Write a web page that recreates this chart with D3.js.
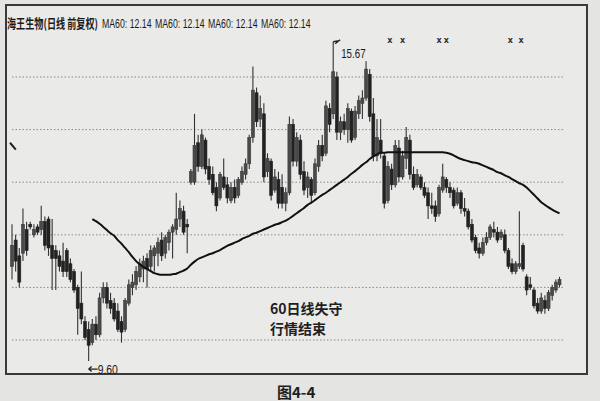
<!DOCTYPE html>
<html><head><meta charset="utf-8">
<script src="https://cdn.jsdelivr.net/npm/d3@7"></script>
<style>
html,body{margin:0;padding:0;background:#e5e5e3;}
svg{display:block;}
</style></head>
<body>
<svg id="c" width="600" height="401"></svg>
<script>
// ---- data ----
const title = "海王生物(日线 前复权)";
const maLabels = ["MA60: 12.14","MA60: 12.14","MA60: 12.14","MA60: 12.14"];
const gridPrices = [10,11,12,13,14,15];
const opens = [11.4,11.9,11.6,11.65,12.1,12.2,12.0,12.15,12.1,12.25,12.3,11.8,11.7,11.6,11.5,11.7,11.45,11.3,11.0,10.7,10.35,10.2,9.95,10.3,10.1,10.8,11.0,10.75,10.7,10.55,10.35,10.2,10.7,11.0,11.05,11.2,11.35,11.55,11.4,11.6,11.65,11.9,11.65,11.85,12.05,12.1,12.3,12.45,12.2,13.0,13.0,13.75,13.3,13.8,13.3,13.15,12.9,12.7,13.1,12.95,12.65,12.9,12.75,13.0,13.15,13.35,13.85,14.7,14.2,14.3,13.2,13.4,12.85,13.05,12.9,12.6,12.8,14.1,13.4,13.8,13.2,12.9,13.05,12.8,13.3,13.7,13.55,14.4,14.3,15.0,13.95,14.15,14.0,14.35,13.85,14.3,14.5,14.6,15.05,14.3,13.5,13.8,13.5,12.65,13.25,12.95,13.65,13.1,13.45,13.8,13.15,12.95,13.1,12.9,12.8,12.55,12.55,12.4,12.85,13.05,12.9,12.85,12.6,12.8,12.5,12.45,12.2,11.95,11.75,11.65,11.85,11.95,12.1,12.05,11.95,12.0,11.7,11.45,11.3,11.4,11.8,11.2,11.05,10.95,10.7,10.55,10.75,10.6,10.85,10.95,11.05];
const highs = [12.2,12.0,11.75,12.5,12.25,12.25,12.2,12.2,12.55,12.35,12.35,12.3,11.8,11.7,11.85,11.75,11.55,11.35,11.05,11.3,10.45,10.35,10.4,10.45,10.9,11.1,11.1,10.9,10.8,10.7,10.45,10.8,11.15,11.25,11.4,11.55,11.6,11.65,11.8,11.8,11.95,12.05,12.0,12.1,12.2,12.8,12.65,12.55,12.3,13.25,14.3,13.9,14.0,13.85,13.45,13.3,13.0,13.2,13.45,13.1,13.0,13.05,13.1,13.3,13.45,13.9,15.2,14.8,14.65,14.5,13.55,13.45,13.25,13.2,13.15,12.9,14.25,14.2,13.95,13.9,13.4,13.2,13.1,13.45,13.8,13.9,14.55,14.5,15.67,15.1,14.25,14.3,14.5,14.4,14.45,14.65,14.75,15.3,15.15,14.6,14.2,14.2,13.55,13.4,13.35,13.8,13.8,13.6,14.05,13.9,13.3,13.25,13.15,13.0,12.9,12.8,12.65,12.95,13.35,13.1,13.0,12.9,12.9,12.85,12.7,12.5,12.3,12.0,11.85,11.95,12.05,12.2,12.25,12.15,12.1,12.1,11.75,11.55,11.5,12.45,11.85,11.25,11.2,11.0,10.8,10.9,10.85,10.95,11.05,11.15,11.2];
const lows = [11.15,11.3,11.0,11.5,11.6,12.1,11.95,12.0,12.0,11.7,11.6,10.95,10.95,11.3,11.2,11.2,11.1,10.9,10.1,10.3,10.0,9.6,9.9,10.0,10.05,10.7,10.6,10.5,10.35,10.15,9.95,10.15,10.65,10.85,10.95,11.1,11.1,11.0,11.3,11.3,11.4,11.5,11.55,11.7,11.55,12.0,12.15,12.0,11.65,12.95,12.95,13.2,13.25,13.15,12.95,12.75,12.45,12.65,12.85,12.6,12.6,12.6,12.7,12.95,13.05,13.25,13.75,14.05,14.05,13.0,13.1,12.65,12.8,12.5,12.5,12.45,12.75,13.3,13.3,13.05,12.75,12.7,12.6,12.75,13.2,13.4,13.5,13.95,14.2,13.8,13.8,13.9,13.75,13.75,13.8,14.2,14.2,14.55,14.15,13.4,13.4,13.45,12.5,12.6,12.85,12.9,13.0,13.05,13.25,13.05,12.85,12.9,12.85,12.7,12.3,12.4,12.25,12.35,12.8,12.8,12.7,12.5,12.55,12.4,12.35,12.1,11.85,11.65,11.55,11.6,11.8,11.9,11.95,11.85,11.9,11.65,11.35,11.25,11.25,11.35,11.3,10.85,10.95,10.6,10.5,10.5,10.5,10.55,10.75,10.9,11.0];
const closes = [11.8,11.5,11.1,12.2,11.7,12.15,12.1,12.05,12.25,11.8,11.75,11.55,11.55,11.4,11.3,11.3,11.15,10.95,10.6,10.4,10.05,9.9,10.3,10.1,10.8,11.0,10.7,10.6,10.4,10.2,10.15,10.75,11.05,11.1,11.3,11.45,11.5,11.35,11.7,11.75,11.85,11.6,11.95,12.05,12.15,12.3,12.5,12.05,12.15,13.2,13.7,13.3,13.9,13.25,13.05,12.8,12.55,13.15,12.9,12.7,12.9,12.7,13.05,13.2,13.35,13.85,14.75,14.15,14.4,13.1,13.45,12.75,13.1,12.6,12.6,12.8,14.1,13.4,13.85,13.15,12.85,13.1,12.75,13.35,13.7,13.5,14.45,14.1,15.1,13.95,14.15,14.0,14.4,13.8,14.35,14.55,14.6,15.15,14.25,13.5,13.85,13.55,12.6,13.3,12.95,13.7,13.1,13.5,13.85,13.15,12.9,13.15,12.9,12.75,12.55,12.5,12.35,12.9,13.1,12.9,12.8,12.55,12.8,12.5,12.45,12.15,11.9,11.7,11.65,11.85,11.95,12.15,12.05,11.9,12.05,11.7,11.4,11.3,11.45,11.45,11.35,10.95,11.0,10.65,10.55,10.8,10.6,10.9,11.0,11.1,11.15];
// MA60 values (first 22 bars have none)
const maStart = 22;
const ma60 = [12.30,12.26,12.21,12.15,12.09,12.03,11.98,11.90,11.83,11.75,11.67,11.58,11.50,11.44,11.39,11.35,11.31,11.27,11.25,11.24,11.24,11.24,11.25,11.26,11.29,11.32,11.36,11.43,11.49,11.54,11.57,11.60,11.63,11.65,11.68,11.71,11.75,11.79,11.82,11.85,11.88,11.92,11.95,11.98,12.02,12.04,12.07,12.10,12.13,12.16,12.19,12.21,12.24,12.27,12.31,12.36,12.41,12.46,12.51,12.57,12.61,12.66,12.71,12.76,12.80,12.85,12.90,12.95,13.00,13.05,13.10,13.16,13.21,13.27,13.33,13.38,13.44,13.49,13.53,13.56,13.56,13.57,13.57,13.57,13.57,13.57,13.57,13.57,13.57,13.57,13.57,13.57,13.57,13.57,13.57,13.57,13.57,13.56,13.54,13.51,13.47,13.44,13.42,13.40,13.38,13.37,13.35,13.32,13.29,13.26,13.23,13.19,13.17,13.13,13.10,13.06,13.02,12.98,12.95,12.90,12.83,12.76,12.69,12.62,12.57,12.52,12.48,12.44,12.41];
const stubLine = [13.75,13.62]; // fragment at the left edge
const highIdx = 88, highLabel = "15.67";
const lowIdx = 21, lowLabel = "9.60";
const markerIdx = [103.5,107,117,119,136.5,139.5];
const notes = ["60日线失守","行情结束"];
const caption = "图4-4";

// ---- drawing ----
const svg = d3.select("#c");
const n = closes.length;
const x = d3.scaleLinear().domain([0, n-1]).range([12, 559.5]);
const y = d3.scaleLinear().domain([10, 15]).range([340, 77]);

// plot background & frame
svg.append("rect").attr("x",0).attr("y",0).attr("width",600).attr("height",401).attr("fill","#e4e4e2");
svg.append("rect").attr("x",6).attr("y",5).attr("width",581).attr("height",369)
  .attr("fill","#eaeae8").attr("stroke","#3a3a3a").attr("stroke-width",2);

// grid
svg.append("g").selectAll("line").data(gridPrices).join("line")
  .attr("x1",12).attr("x2",563)
  .attr("y1",d=>y(d)).attr("y2",d=>y(d))
  .attr("stroke","#8a8a8a").attr("stroke-width",1).attr("stroke-dasharray","1.5,2");

// candles
const idx = d3.range(n);
const g = svg.append("g");
g.selectAll("line.w").data(idx).join("line").attr("class","w")
  .attr("x1",i=>x(i)).attr("x2",i=>x(i))
  .attr("y1",i=>y(highs[i])).attr("y2",i=>y(lows[i]))
  .attr("stroke","#333").attr("stroke-width",1.1);
g.selectAll("rect.b").data(idx).join("rect").attr("class","b")
  .attr("x",i=>x(i)-1.5).attr("width",3)
  .attr("y",i=>y(Math.max(opens[i],closes[i])))
  .attr("height",i=>Math.max(1,Math.abs(y(opens[i])-y(closes[i]))))
  .attr("fill",i=>closes[i]>=opens[i]?"#4a4a4a":"#222")
  .attr("stroke",i=>closes[i]>=opens[i]?"#3a3a3a":"#222").attr("stroke-width",0.6);

// MA60
const maPts = ma60.map((v,k)=>[maStart+k, v]);
svg.append("path").datum(maPts)
  .attr("d", d3.line().x(d=>x(d[0])).y(d=>y(d[1])).curve(d3.curveMonotoneX))
  .attr("fill","none").attr("stroke","#111").attr("stroke-width",2);
svg.append("path").datum(stubLine.map((v,k)=>[k*1.6,v]))
  .attr("d", d3.line().x(d=>x(d[0])-2).y(d=>y(d[1])))
  .attr("fill","none").attr("stroke","#222").attr("stroke-width",2);

// title line: horizontally condensed texts
svg.append("text").attr("transform","translate(7,28) scale(0.76,1.05)")
  .attr("font-family","'Noto Sans CJK SC',sans-serif")
  .attr("font-size",12).attr("font-weight","bold").attr("fill","#1a1a1a").text(title);
const maX = [102,155,208,261];
svg.append("g").selectAll("text").data(maLabels).join("text")
  .attr("transform",(d,i)=>`translate(${maX[i]},28) scale(0.7,1.05)`)
  .attr("font-family","'Liberation Sans',sans-serif")
  .attr("font-size",12.5).attr("fill","#1a1a1a").text(d=>d);

// high label
const hx = x(highIdx), hy = y(highs[highIdx]);
svg.append("path").attr("d",`M${hx},${hy} L${hx+6},${hy-1} M${hx+2},${hy+2} L${hx+7},${hy-2}`)
  .attr("stroke","#222").attr("stroke-width",1.3).attr("fill","none");
svg.append("text").attr("transform",`translate(${hx+8},${hy+16}) scale(0.75,1)`)
  .attr("font-family","'Liberation Sans',sans-serif").attr("font-size",13)
  .attr("fill","#1a1a1a").text(highLabel);

// low label
const lx = x(lowIdx), ly = y(lows[lowIdx]) + 8;
svg.append("path").attr("d",`M${lx},${ly} L${lx+9},${ly} M${lx},${ly} L${lx+3},${ly-2.5} M${lx},${ly} L${lx+3},${ly+2.5}`)
  .attr("stroke","#222").attr("stroke-width",1.3).attr("fill","none");
svg.append("text").attr("transform",`translate(${lx+9},${ly+5}) scale(0.8,1)`)
  .attr("font-family","'Liberation Sans',sans-serif").attr("font-size",13)
  .attr("fill","#1a1a1a").text(lowLabel);

// markers
svg.append("g").selectAll("text").data(markerIdx).join("text")
  .attr("x",d=>x(d)).attr("y",43).attr("text-anchor","middle")
  .attr("font-family","'DejaVu Sans',sans-serif").attr("font-size",8).attr("font-weight","bold")
  .attr("fill","#333").text("x");

// notes
svg.append("g").selectAll("text").data(notes).join("text")
  .attr("x",270).attr("y",(d,i)=>314+i*20)
  .attr("font-family","'Noto Sans CJK SC',sans-serif").attr("font-size",14).attr("font-weight","bold")
  .attr("fill","#1e1e1e").text(d=>d);

// caption
svg.append("text").attr("x",277).attr("y",398)
  .attr("font-family","'Noto Sans CJK SC',sans-serif").attr("font-size",15).attr("font-weight","bold")
  .attr("fill","#1e1e1e").text(caption);
</script>
</body></html>
